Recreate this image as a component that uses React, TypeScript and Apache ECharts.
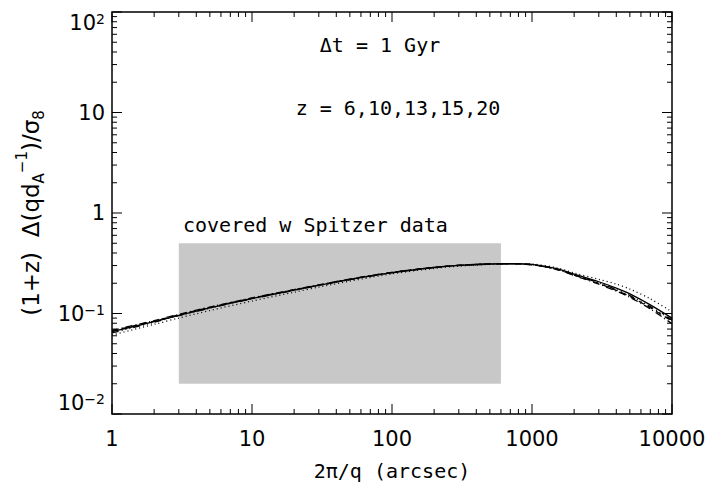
import React, { useEffect, useRef } from "react";
import * as echarts from "echarts";

// Scale 2π/q (arcsec)
const xs = [1, 2, 3, 5, 10, 20, 30, 50, 100, 200, 300, 500, 700, 1000, 1500, 2000, 3000, 4000, 5000, 7000, 10000];

// (1+z) Δ(q d_A^-1)/σ8 for each redshift
const yZ6 = [0.066, 0.083, 0.096, 0.114, 0.141, 0.171, 0.191, 0.218, 0.255, 0.287, 0.301, 0.311, 0.313, 0.308, 0.280, 0.246, 0.207, 0.179, 0.157, 0.122, 0.090];
const yZ10 = [0.061, 0.078, 0.090, 0.107, 0.133, 0.163, 0.183, 0.210, 0.248, 0.281, 0.296, 0.308, 0.312, 0.310, 0.285, 0.253, 0.219, 0.196, 0.175, 0.140, 0.104];
const yZ13 = [0.067, 0.084, 0.097, 0.115, 0.142, 0.172, 0.192, 0.219, 0.256, 0.288, 0.301, 0.311, 0.312, 0.306, 0.276, 0.241, 0.199, 0.170, 0.148, 0.114, 0.084];
const yZ15 = [0.068, 0.085, 0.098, 0.116, 0.143, 0.173, 0.193, 0.220, 0.257, 0.288, 0.302, 0.311, 0.312, 0.305, 0.274, 0.239, 0.196, 0.167, 0.145, 0.111, 0.079];
const yZ20 = [0.064, 0.082, 0.095, 0.113, 0.140, 0.170, 0.190, 0.217, 0.254, 0.286, 0.300, 0.310, 0.312, 0.306, 0.277, 0.243, 0.202, 0.173, 0.151, 0.117, 0.086];

const seriesNames = ["z=6", "z=10", "z=13", "z=15", "z=20"];
const seriesValues = [yZ6, yZ10, yZ13, yZ15, yZ20];

// Region covered by Spitzer data: [xmin, xmax], [ymin, ymax]
const coveredX = [3, 600];
const coveredY = [0.02, 0.5];

const xRange = [1, 10000];
const yRange = [0.01, 100];
const xTickLabels = ["1", "10", "100", "1000", "10000"];

const lineTypes: any[] = ["solid", [1, 3], [6, 4], [7, 3, 1, 3], [7, 3, 1, 3, 1, 3, 1, 3]];

function buildTicks() {
  const out: number[][] = [];
  for (let e = 0; e <= 4; e++) {
    out.push([Math.pow(10, e), 1, 0, 10]);
    if (e < 4) for (let m = 2; m <= 9; m++) out.push([m * Math.pow(10, e), 1, 0, 5]);
  }
  for (let e = -2; e <= 2; e++) {
    out.push([1, Math.pow(10, e), 1, 10]);
    if (e < 2) for (let m = 2; m <= 9; m++) out.push([1, m * Math.pow(10, e), 1, 5]);
  }
  return out;
}

function fmtY(v: number) {
  const e = Math.round(Math.log10(v));
  if (e === 0) return "{b|1}";
  if (e === 1) return "{b|10}";
  return "{b|10}{sup|" + (e < 0 ? "\u2212" : "") + Math.abs(e) + "}";
}

const MONO = "'DejaVu Sans Mono', monospace";
const SANS = "'DejaVu Sans', sans-serif";

export default function App() {
  const ref = useRef<HTMLDivElement>(null);
  useEffect(() => {
    if (!ref.current) return;
    const chart = echarts.init(ref.current, null, { renderer: "svg" });
    const lineSeries = seriesNames.map((name, i) => ({
      name,
      type: "line",
      data: xs.map((x, j) => [x, seriesValues[i][j]]),
      showSymbol: false,
      smooth: 0.3,
      lineStyle: { color: "#000", width: 1.3, type: lineTypes[i] },
      z: 4,
      silent: true,
    }));
    chart.setOption({
      animation: false,
      backgroundColor: "#fff",
      grid: {
        left: 112,
        top: 12,
        right: 43,
        bottom: 68,
        show: true,
        borderColor: "#000",
        borderWidth: 1.5,
        backgroundColor: "transparent",
      },
      xAxis: {
        type: "log",
        logBase: 10,
        min: xRange[0],
        max: xRange[1],
        axisLine: { show: false },
        axisTick: { show: false },
        splitLine: { show: false },
        axisLabel: {
          color: "#000",
          fontFamily: SANS,
          fontSize: 21,
          margin: 14,
          formatter: (v: number) => xTickLabels[Math.round(Math.log10(v))] ?? String(v),
        },
        name: "2\u03c0/q (arcsec)",
        nameLocation: "middle",
        nameGap: 47,
        nameTextStyle: { color: "#000", fontFamily: MONO, fontSize: 20 },
      },
      yAxis: {
        type: "log",
        logBase: 10,
        min: yRange[0],
        max: yRange[1],
        axisLine: { show: false },
        axisTick: { show: false },
        splitLine: { show: false },
        axisLabel: {
          color: "#000",
          margin: 7,
          formatter: fmtY,
          verticalAlignMinLabel: "bottom",
          verticalAlignMaxLabel: "top",
          rich: {
            b: { fontFamily: SANS, fontSize: 21, lineHeight: 22, color: "#000", verticalAlign: "middle" },
            sup: { fontFamily: SANS, fontSize: 14, lineHeight: 10, color: "#000", verticalAlign: "top" },
          },
        },
        name: "{b|(1+z)  \u0394(qd}{sub|A}{sup|\u22121}{b|)/\u03c3}{sub|8}",
        nameLocation: "middle",
        nameRotate: 90,
        nameGap: 62,
        nameTextStyle: {
          rich: {
            b: { fontFamily: SANS, fontSize: 23, lineHeight: 32, color: "#000", verticalAlign: "middle" },
            sup: { fontFamily: SANS, fontSize: 15, lineHeight: 12, color: "#000", verticalAlign: "top" },
            sub: { fontFamily: SANS, fontSize: 15, lineHeight: 12, color: "#000", verticalAlign: "bottom" },
          },
        },
      },
      graphic: [
        {
          type: "text",
          x: 380,
          y: 45,
          style: { text: "\u0394t = 1 Gyr", fill: "#000", font: "20px " + MONO, align: "center", verticalAlign: "middle" },
        },
        {
          type: "text",
          x: 398,
          y: 108,
          style: { text: "z = 6,10,13,15,20", fill: "#000", font: "20px " + MONO, align: "center", verticalAlign: "middle" },
        },
        {
          type: "text",
          x: 183,
          y: 225,
          style: { text: "covered w Spitzer data", fill: "#000", font: "20px " + MONO, align: "left", verticalAlign: "middle" },
        },
      ],
      series: [
        {
          type: "line",
          name: "covered",
          data: [],
          silent: true,
          z: 1,
          markArea: {
            silent: true,
            itemStyle: { color: "#c8c8c8" },
            data: [[{ coord: [coveredX[0], coveredY[1]] }, { coord: [coveredX[1], coveredY[0]] }]],
          },
        },
        ...lineSeries,
        {
          type: "custom",
          name: "ticks",
          silent: true,
          clip: false,
          z: 5,
          data: buildTicks(),
          encode: { x: 0, y: 1 },
          renderItem: (params: any, api: any) => {
            const cs = params.coordSys;
            const kind = api.value(2);
            const len = api.value(3);
            const st = { stroke: "#000", lineWidth: 1 };
            if (kind === 0) {
              const x = api.coord([api.value(0), 1])[0];
              const yb = cs.y + cs.height;
              return {
                type: "group",
                children: [
                  { type: "line", shape: { x1: x, y1: yb, x2: x, y2: yb - len }, style: st },
                  { type: "line", shape: { x1: x, y1: cs.y, x2: x, y2: cs.y + len }, style: st },
                ],
              };
            }
            const y = api.coord([1, api.value(1)])[1];
            const xr = cs.x + cs.width;
            return {
              type: "group",
              children: [
                { type: "line", shape: { x1: cs.x, y1: y, x2: cs.x + len, y2: y }, style: st },
                { type: "line", shape: { x1: xr, y1: y, x2: xr - len, y2: y }, style: st },
              ],
            };
          },
        },
      ],
    });
    return () => chart.dispose();
  }, []);
  return <div ref={ref} style={{ position: "fixed", left: 0, top: 0, width: 715, height: 486 }} />;
}
